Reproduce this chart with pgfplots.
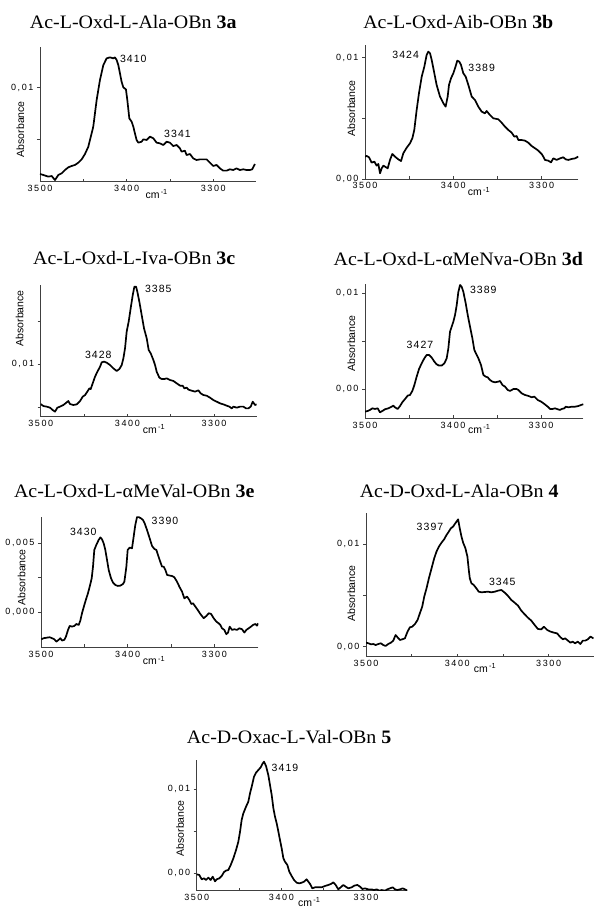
\documentclass[border=0pt]{standalone}
\usepackage{fontspec}
\setmainfont{Liberation Serif}[FakeStretch=1.05]
\newfontfamily\sansf{Liberation Sans}
\newfontfamily\tickf{Liberation Sans}[LetterSpace=18]
\newfontfamily\pkf{Liberation Sans}[LetterSpace=10]
\usepackage{pgfplots}
\pgfplotsset{compat=1.18}

\pgfplotsset{
  spec/.style={
    scale only axis, anchor=south west,
    axis x line=bottom, axis y line=left,
    axis line style={-, black!75, line width=0.7pt},
    x dir=reverse, xmax=3500,
    xtick={3300,3400,3500}, xticklabels={3300,3400,3500},
    minor xtick={3350,3450},
    scaled y ticks=false,
    xtick align=inside, ytick align=outside,
    major tick length=3pt, minor tick length=3pt,
    tick style={black!75, line width=0.6pt},
    tick label style={font=\tickf\fontsize{9}{10}\selectfont},
    cycle list={black},
    every axis plot/.append style={line width=1.7pt, line join=round},
  },
}
\tikzset{
  ttl/.style={anchor=base, inner sep=0pt, font=\fontsize{19}{22}\selectfont},
  pk/.style={inner sep=0pt, font=\pkf\fontsize{10.5}{12}\selectfont},
  ab/.style={rotate=90, inner sep=0pt, font=\sansf\fontsize{10.5}{12}\selectfont},
  cml/.style={anchor=base, inner sep=0pt, font=\sansf\fontsize{10.5}{12}\selectfont},
}

\begin{document}
\begin{tikzpicture}
\path[use as bounding box] (0pt,0pt) rectangle (594pt,908pt);

% ---- 3a ----
\begin{axis}[spec, at={(40pt,726.3pt)}, width=215.7pt, height=135pt,
  xmin=3251, ymin=0.0009, ymax=0.01397,
  ytick={0.01}, yticklabels={{0,01},{}}, minor ytick={0.005}]
\addplot coordinates {
(3500.0,0.00165)(3496.2,0.00155)(3490.4,0.00139)(3486.5,0.00145)(3482.7,0.00106)(3478.8,0.00155)(3475.0,0.00171)(3471.2,0.00203)(3467.3,0.00229)(3463.5,0.00242)(3459.6,0.00252)(3455.8,0.00274)(3451.9,0.00306)(3448.1,0.00358)(3444.2,0.00429)(3442.3,0.00494)(3438.5,0.00623)(3434.6,0.00881)(3430.8,0.01074)(3426.9,0.01219)(3423.1,0.01284)(3419.2,0.01294)(3415.4,0.01284)(3413.5,0.01294)(3411.5,0.01268)(3409.6,0.01219)(3407.7,0.01139)(3405.8,0.01058)(3403.8,0.01003)(3400.8,0.00984)(3399.2,0.00881)(3396.9,0.00703)(3394.2,0.00671)(3392.3,0.00623)(3390.4,0.00558)(3388.5,0.00494)(3386.5,0.00468)(3382.7,0.00477)(3380.8,0.00500)(3376.9,0.00494)(3373.1,0.00526)(3369.2,0.00510)(3365.4,0.00468)(3361.5,0.00461)(3357.7,0.00445)(3353.8,0.00477)(3350.0,0.00468)(3346.2,0.00435)(3342.3,0.00445)(3338.5,0.00413)(3336.5,0.00381)(3332.7,0.00390)(3330.8,0.00348)(3326.9,0.00358)(3323.1,0.00316)(3319.2,0.00300)(3315.4,0.00306)(3311.5,0.00306)(3307.7,0.00306)(3303.8,0.00274)(3300.0,0.00242)(3296.2,0.00252)(3292.3,0.00219)(3288.5,0.00197)(3284.6,0.00197)(3280.8,0.00210)(3276.9,0.00203)(3273.1,0.00219)(3269.2,0.00203)(3265.4,0.00210)(3261.5,0.00203)(3257.7,0.00203)(3255.0,0.00210)(3251.9,0.00261)
};
\end{axis}

% ---- 3b ----
\begin{axis}[spec, at={(365pt,729pt)}, width=213.3pt, height=134pt,
  xmin=3258.5, ymin=0, ymax=0.01104,
  ytick={0,0.01}, yticklabels={{0,00},{0,01}}, minor ytick={0.005}]
\addplot coordinates {
(3500.0,0.00184)(3498.1,0.00190)(3495.5,0.00179)(3492.5,0.00135)(3489.4,0.00143)(3486.8,0.00110)(3484.9,0.00124)(3483.0,0.00047)(3481.1,0.00088)(3479.2,0.00110)(3477.4,0.00102)(3474.3,0.00088)(3471.7,0.00157)(3469.1,0.00206)(3466.0,0.00184)(3462.3,0.00162)(3459.2,0.00148)(3456.6,0.00212)(3452.8,0.00258)(3449.1,0.00294)(3446.4,0.00335)(3444.2,0.00404)(3441.5,0.00569)(3438.9,0.00706)(3435.8,0.00843)(3432.8,0.00926)(3430.2,0.01022)(3428.3,0.01049)(3426.4,0.01036)(3424.5,0.00981)(3421.5,0.00871)(3418.9,0.00775)(3415.1,0.00679)(3411.3,0.00624)(3408.7,0.00596)(3406.4,0.00679)(3404.9,0.00775)(3402.6,0.00830)(3400.0,0.00871)(3398.1,0.00912)(3395.5,0.00975)(3393.2,0.00967)(3391.3,0.00940)(3388.7,0.00871)(3386.0,0.00843)(3383.0,0.00775)(3379.2,0.00679)(3375.5,0.00651)(3371.7,0.00596)(3367.9,0.00555)(3364.2,0.00541)(3362.3,0.00560)(3358.5,0.00527)(3354.7,0.00500)(3349.1,0.00492)(3345.3,0.00464)(3341.5,0.00431)(3337.7,0.00404)(3334.0,0.00382)(3330.9,0.00349)(3328.3,0.00354)(3326.4,0.00321)(3322.6,0.00321)(3318.9,0.00316)(3315.1,0.00299)(3311.3,0.00272)(3307.5,0.00253)(3303.8,0.00234)(3300.0,0.00206)(3298.1,0.00184)(3296.2,0.00157)(3292.5,0.00151)(3289.4,0.00137)(3286.8,0.00170)(3283.0,0.00157)(3279.2,0.00170)(3275.5,0.00179)(3272.8,0.00162)(3269.8,0.00157)(3266.0,0.00165)(3262.3,0.00170)(3258.5,0.00184)
};
\end{axis}

% ---- 3c ----
\begin{axis}[spec, at={(40.7pt,491.3pt)}, width=216pt, height=131.7pt,
  xmin=3250.8, ymin=0.00396, ymax=0.01915,
  ytick={0.01}, yticklabels={{0,01},{}}, minor ytick={0.005,0.015}]
\addplot coordinates {
(3500.0,0.00542)(3496.9,0.00519)(3493.1,0.00512)(3489.2,0.00500)(3486.2,0.00473)(3483.5,0.00454)(3480.8,0.00500)(3477.7,0.00512)(3473.8,0.00531)(3470.0,0.00562)(3468.1,0.00577)(3466.2,0.00542)(3462.3,0.00531)(3458.5,0.00538)(3454.6,0.00577)(3451.5,0.00627)(3448.8,0.00646)(3446.2,0.00685)(3443.8,0.00723)(3442.3,0.00715)(3440.0,0.00781)(3437.3,0.00858)(3434.6,0.00915)(3431.5,0.00973)(3429.6,0.01023)(3426.9,0.01031)(3423.8,0.01019)(3420.0,0.00992)(3416.2,0.00954)(3412.3,0.00923)(3409.2,0.00946)(3406.5,0.00992)(3404.6,0.01069)(3402.7,0.01185)(3400.8,0.01377)(3398.5,0.01492)(3396.2,0.01646)(3393.8,0.01800)(3391.9,0.01896)(3390.0,0.01896)(3388.5,0.01838)(3386.2,0.01723)(3383.5,0.01569)(3380.8,0.01415)(3377.7,0.01300)(3375.4,0.01165)(3373.1,0.01127)(3370.0,0.01050)(3368.1,0.00992)(3366.2,0.00915)(3363.1,0.00846)(3360.4,0.00831)(3357.3,0.00831)(3354.6,0.00838)(3350.8,0.00819)(3346.9,0.00808)(3343.1,0.00781)(3339.2,0.00754)(3336.2,0.00754)(3334.2,0.00723)(3331.5,0.00731)(3329.6,0.00708)(3325.8,0.00696)(3321.9,0.00685)(3318.1,0.00700)(3315.4,0.00665)(3312.3,0.00646)(3308.5,0.00638)(3304.6,0.00615)(3300.8,0.00588)(3296.9,0.00569)(3293.1,0.00550)(3289.2,0.00538)(3285.4,0.00523)(3282.3,0.00512)(3279.6,0.00492)(3277.7,0.00512)(3273.8,0.00500)(3270.0,0.00512)(3266.2,0.00512)(3263.1,0.00492)(3260.4,0.00492)(3257.7,0.00512)(3255.4,0.00569)(3252.7,0.00531)(3250.8,0.00538)
};
\end{axis}

% ---- 3d ----
\begin{axis}[spec, at={(365pt,489.7pt)}, width=218.3pt, height=134pt,
  xmin=3252, ymin=-0.00302, ymax=0.01094,
  ytick={0,0.01}, yticklabels={{0,00},{0,01}}, minor ytick={0.005}]
\addplot coordinates {
(3500.0,-0.00233)(3497.0,-0.00226)(3494.3,-0.00215)(3491.7,-0.00198)(3488.6,-0.00205)(3485.6,-0.00198)(3483.0,-0.00240)(3480.3,-0.00226)(3477.3,-0.00208)(3473.5,-0.00198)(3469.7,-0.00181)(3467.8,-0.00170)(3465.9,-0.00188)(3462.9,-0.00205)(3460.2,-0.00174)(3457.6,-0.00135)(3454.5,-0.00101)(3451.5,-0.00066)(3448.9,-0.00059)(3446.2,-0.00017)(3443.9,0.00045)(3441.3,0.00132)(3438.6,0.00212)(3435.6,0.00271)(3432.6,0.00323)(3429.9,0.00358)(3427.3,0.00358)(3424.2,0.00330)(3421.2,0.00288)(3418.6,0.00260)(3415.9,0.00247)(3412.9,0.00247)(3409.8,0.00271)(3407.2,0.00323)(3405.3,0.00427)(3403.4,0.00601)(3401.5,0.00653)(3399.6,0.00705)(3397.7,0.00774)(3395.8,0.00878)(3393.9,0.01017)(3392.0,0.01087)(3390.2,0.01069)(3388.3,0.01017)(3385.6,0.00896)(3383.3,0.00774)(3380.7,0.00653)(3378.0,0.00531)(3375.8,0.00410)(3373.1,0.00358)(3371.2,0.00323)(3368.2,0.00253)(3365.5,0.00149)(3362.9,0.00132)(3360.6,0.00125)(3358.0,0.00097)(3355.3,0.00080)(3352.3,0.00073)(3348.5,0.00080)(3346.6,0.00087)(3343.9,0.00045)(3340.9,0.00028)(3337.9,-0.00007)(3335.2,-0.00017)(3331.4,0.00003)(3327.7,0.00003)(3325.8,-0.00007)(3322.0,-0.00042)(3318.2,-0.00059)(3314.4,-0.00069)(3310.6,-0.00083)(3307.6,-0.00076)(3303.8,-0.00111)(3300.0,-0.00128)(3296.2,-0.00153)(3292.4,-0.00181)(3289.8,-0.00205)(3287.1,-0.00205)(3284.1,-0.00198)(3281.1,-0.00208)(3278.4,-0.00215)(3276.5,-0.00205)(3273.5,-0.00198)(3272.0,-0.00181)(3268.9,-0.00188)(3265.2,-0.00181)(3261.4,-0.00181)(3257.6,-0.00174)(3254.5,-0.00163)(3252.0,-0.00156)
};
\end{axis}

% ---- 3e ----
\begin{axis}[spec, at={(41pt,260.7pt)}, width=217.3pt, height=130.6pt,
  xmin=3249.3, ymin=-0.00254, ymax=0.00693,
  ytick={0,0.005}, yticklabels={{0,000},{0,005}}, minor ytick={0.0025}]
\addplot coordinates {
(3499.6,-0.00196)(3496.9,-0.00188)(3493.1,-0.00184)(3490.0,-0.00181)(3487.3,-0.00188)(3484.6,-0.00196)(3482.3,-0.00213)(3479.6,-0.00200)(3477.7,-0.00188)(3475.8,-0.00205)(3473.1,-0.00200)(3471.2,-0.00176)(3468.8,-0.00128)(3466.9,-0.00099)(3464.2,-0.00104)(3461.5,-0.00099)(3459.2,-0.00085)(3456.5,-0.00092)(3454.6,-0.00060)(3452.7,-0.00007)(3450.0,0.00053)(3447.7,0.00101)(3445.8,0.00138)(3443.8,0.00186)(3441.5,0.00246)(3440.0,0.00331)(3438.5,0.00452)(3436.2,0.00488)(3433.5,0.00524)(3431.5,0.00543)(3429.6,0.00529)(3427.7,0.00500)(3425.8,0.00452)(3423.8,0.00379)(3421.9,0.00307)(3419.2,0.00246)(3416.9,0.00215)(3414.2,0.00198)(3411.5,0.00191)(3408.5,0.00193)(3405.4,0.00205)(3403.8,0.00222)(3401.5,0.00331)(3400.0,0.00452)(3397.7,0.00469)(3395.0,0.00464)(3393.1,0.00548)(3391.2,0.00633)(3389.2,0.00690)(3387.3,0.00690)(3384.6,0.00681)(3382.3,0.00669)(3380.4,0.00645)(3377.7,0.00597)(3374.6,0.00536)(3371.9,0.00481)(3369.2,0.00459)(3366.9,0.00452)(3365.0,0.00415)(3363.1,0.00379)(3360.4,0.00331)(3358.5,0.00331)(3356.5,0.00307)(3354.6,0.00271)(3351.5,0.00266)(3348.8,0.00263)(3346.2,0.00254)(3343.1,0.00222)(3340.0,0.00181)(3337.3,0.00150)(3334.6,0.00101)(3331.5,0.00114)(3328.8,0.00089)(3326.5,0.00060)(3324.6,0.00065)(3321.9,0.00041)(3319.2,0.00017)(3316.2,-0.00012)(3312.3,-0.00043)(3309.2,-0.00027)(3306.5,-0.00007)(3303.8,-0.00012)(3300.8,-0.00043)(3297.7,-0.00068)(3295.0,-0.00080)(3293.1,-0.00092)(3291.2,-0.00116)(3288.5,-0.00128)(3286.2,-0.00159)(3284.2,-0.00147)(3282.3,-0.00104)(3279.6,-0.00128)(3276.9,-0.00123)(3273.8,-0.00128)(3271.2,-0.00116)(3268.1,-0.00123)(3265.4,-0.00147)(3263.1,-0.00128)(3260.4,-0.00116)(3257.7,-0.00104)(3255.4,-0.00092)(3252.7,-0.00085)(3250.8,-0.00097)(3249.4,-0.00080)
};
\end{axis}

% ---- 4 ----
\begin{axis}[spec, at={(366pt,251.3pt)}, width=227.5pt, height=143.4pt,
  xmin=3250.8, ymin=-0.00098, ymax=0.01303,
  ytick={0,0.01}, yticklabels={{0,00},{0,01}}, minor ytick={0.005}]
\addplot coordinates {
(3500.0,0.00039)(3497.4,0.00033)(3494.5,0.00023)(3492.0,0.00026)(3489.4,0.00016)(3486.5,0.00026)(3483.6,0.00033)(3481.1,0.00016)(3478.5,0.00007)(3475.6,0.00026)(3472.7,0.00039)(3470.1,0.00059)(3467.6,0.00114)(3465.4,0.00091)(3462.8,0.00065)(3460.3,0.00072)(3457.4,0.00081)(3454.5,0.00147)(3451.9,0.00189)(3449.4,0.00195)(3446.4,0.00221)(3443.5,0.00261)(3441.0,0.00326)(3438.4,0.00391)(3436.2,0.00489)(3433.7,0.00570)(3431.1,0.00668)(3428.2,0.00765)(3425.3,0.00863)(3422.8,0.00928)(3420.2,0.00977)(3417.3,0.01016)(3414.4,0.01049)(3411.8,0.01091)(3409.3,0.01124)(3407.1,0.01156)(3404.6,0.01173)(3402.7,0.01199)(3400.9,0.01221)(3399.1,0.01244)(3397.3,0.01156)(3395.4,0.01075)(3393.6,0.01016)(3391.1,0.00961)(3388.9,0.00879)(3387.4,0.00749)(3386.3,0.00668)(3384.5,0.00619)(3382.0,0.00603)(3379.1,0.00570)(3376.5,0.00537)(3373.6,0.00531)(3370.0,0.00534)(3366.3,0.00537)(3362.7,0.00531)(3359.0,0.00537)(3355.4,0.00547)(3351.7,0.00554)(3348.1,0.00528)(3344.4,0.00495)(3340.8,0.00456)(3337.2,0.00430)(3333.5,0.00401)(3329.9,0.00352)(3326.2,0.00316)(3322.6,0.00283)(3318.9,0.00254)(3315.3,0.00212)(3311.7,0.00173)(3308.0,0.00169)(3305.1,0.00195)(3301.5,0.00163)(3297.8,0.00147)(3294.2,0.00137)(3290.7,0.00130)(3286.9,0.00091)(3284.3,0.00072)(3281.8,0.00081)(3278.8,0.00059)(3276.1,0.00039)(3273.6,0.00049)(3271.0,0.00033)(3268.0,0.00049)(3265.2,0.00026)(3262.5,0.00059)(3259.9,0.00059)(3257.0,0.00072)(3254.1,0.00098)(3250.8,0.00081)
};
\end{axis}

% ---- 5 ----
\begin{axis}[spec, at={(196.7pt,17.3pt)}, width=210.6pt, height=130.7pt,
  xmin=3251.2, ymin=-0.00206, ymax=0.01344,
  ytick={0,0.01}, yticklabels={{0,00},{0,01}}, minor ytick={0.005}]
\addplot coordinates {
(3500.0,-0.00012)(3496.9,-0.00020)(3494.1,-0.00071)(3491.3,-0.00059)(3489.0,-0.00079)(3486.2,-0.00051)(3483.5,-0.00079)(3481.1,-0.00040)(3478.3,-0.00095)(3476.4,-0.00071)(3473.2,-0.00059)(3470.5,-0.00032)(3467.7,0.00016)(3465.4,0.00032)(3462.6,0.00040)(3459.8,0.00099)(3456.7,0.00178)(3453.5,0.00277)(3450.8,0.00375)(3448.8,0.00494)(3446.9,0.00632)(3444.9,0.00711)(3441.7,0.00791)(3439.0,0.00850)(3437.0,0.00949)(3435.0,0.01028)(3432.3,0.01146)(3429.9,0.01194)(3427.2,0.01225)(3424.4,0.01257)(3422.0,0.01304)(3420.5,0.01324)(3418.1,0.01273)(3415.4,0.01166)(3413.4,0.01047)(3411.4,0.00929)(3409.4,0.00771)(3407.5,0.00672)(3405.5,0.00593)(3403.5,0.00494)(3401.6,0.00395)(3399.6,0.00296)(3397.6,0.00178)(3395.7,0.00138)(3392.9,0.00099)(3390.6,0.00020)(3387.8,-0.00032)(3385.0,-0.00079)(3381.9,-0.00111)(3378.7,-0.00119)(3376.0,-0.00111)(3373.2,-0.00099)(3370.1,-0.00071)(3368.1,-0.00099)(3366.1,-0.00126)(3363.4,-0.00178)(3360.2,-0.00166)(3356.3,-0.00166)(3352.4,-0.00166)(3348.4,-0.00150)(3344.5,-0.00138)(3341.3,-0.00126)(3338.6,-0.00107)(3335.8,-0.00138)(3332.7,-0.00190)(3329.9,-0.00166)(3326.8,-0.00138)(3324.0,-0.00158)(3320.9,-0.00178)(3316.9,-0.00166)(3313.8,-0.00146)(3310.2,-0.00138)(3307.1,-0.00158)(3304.3,-0.00186)(3301.2,-0.00178)(3297.2,-0.00190)(3293.3,-0.00190)(3290.6,-0.00198)(3287.4,-0.00190)(3284.3,-0.00206)(3281.5,-0.00198)(3277.6,-0.00206)(3274.8,-0.00190)(3271.7,-0.00178)(3268.5,-0.00166)(3265.7,-0.00190)(3263.0,-0.00198)(3259.8,-0.00190)(3256.7,-0.00178)(3253.9,-0.00190)(3251.2,-0.00204)
};
\end{axis}

% titles
\node[ttl] at (133.3pt,879.7pt) {Ac-L-Oxd-L-Ala-OBn \textbf{3a}};
\node[ttl] at (458.3pt,879.7pt) {Ac-L-Oxd-Aib-OBn \textbf{3b}};
\node[ttl] at (134.2pt,643pt) {Ac-L-Oxd-L-Iva-OBn \textbf{3c}};
\node[ttl] at (458.3pt,642.3pt) {Ac-L-Oxd-L-αMeNva-OBn \textbf{3d}};
\node[ttl] at (134.2pt,410.3pt) {Ac-L-Oxd-L-αMeVal-OBn \textbf{3e}};
\node[ttl] at (459.2pt,410.3pt) {Ac-D-Oxd-L-Ala-OBn \textbf{4}};
\node[ttl] at (289.2pt,164.7pt) {Ac-D-Oxac-L-Val-OBn \textbf{5}};

% peak labels
\node[pk] at (133.3pt,848.7pt) {3410};
\node[pk] at (177.5pt,773.7pt) {3341};
\node[pk] at (405.7pt,853pt) {3424};
\node[pk] at (481.7pt,840.3pt) {3389};
\node[pk] at (98.3pt,553pt) {3428};
\node[pk] at (158.3pt,618.7pt) {3385};
\node[pk] at (420pt,563pt) {3427};
\node[pk] at (483.3pt,618pt) {3389};
\node[pk] at (83.3pt,376.3pt) {3430};
\node[pk] at (165pt,387.3pt) {3390};
\node[pk] at (430pt,380.7pt) {3397};
\node[pk] at (502.3pt,326.3pt) {3345};
\node[pk] at (285pt,139.7pt) {3419};

% y labels
\node[ab] at (20.3pt,778.8pt) {Absorbance};
\node[ab] at (351.3pt,799.7pt) {Absorbance};
\node[ab] at (19.7pt,589.7pt) {Absorbance};
\node[ab] at (351.3pt,564.7pt) {Absorbance};
\node[ab] at (21.7pt,330.8pt) {Absorbance};
\node[ab] at (351.3pt,314.7pt) {Absorbance};
\node[ab] at (180pt,79.7pt) {Absorbance};

% x labels
\node[cml] at (156.7pt,709.7pt) {cm\textsuperscript{\,-1}};
\node[cml] at (479pt,712pt) {cm\textsuperscript{\,-1}};
\node[cml] at (154pt,474.7pt) {cm\textsuperscript{\,-1}};
\node[cml] at (479.3pt,474.7pt) {cm\textsuperscript{\,-1}};
\node[cml] at (154pt,243pt) {cm\textsuperscript{\,-1}};
\node[cml] at (485pt,235.3pt) {cm\textsuperscript{\,-1}};
\node[cml] at (309.3pt,1.5pt) {cm\textsuperscript{\,-1}};
\end{tikzpicture}
\end{document}
